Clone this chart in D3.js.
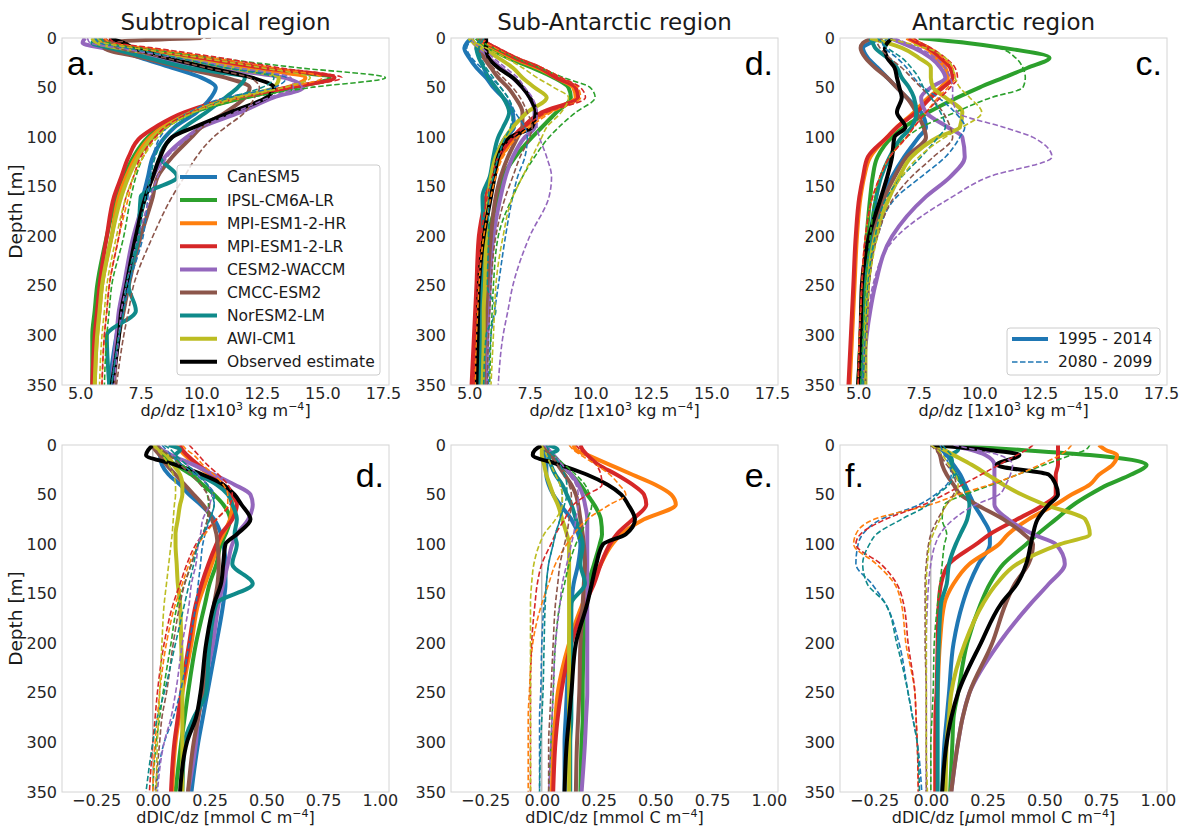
<!DOCTYPE html>
<html lang="en">
<head>
<meta charset="utf-8" />
<script src="https://d3js.org/d3.v7.min.js"></script>
<style>
  body { margin: 0; background: #fff; font-family: 'DejaVu Sans', sans-serif; }
  .tick text { font-size: 16px; fill: #262626; font-family: 'DejaVu Sans', sans-serif; }
</style>
</head>
<body>
<div id="chart"></div>
<script>
// ---- data --------------------------------------------------------------
const depth = [0, 5, 10, 20, 30, 40, 50, 60, 75, 90, 100, 120, 140, 160, 200, 250, 275, 300, 350];
const models = ['CanESM5', 'IPSL-CM6A-LR', 'MPI-ESM1-2-HR', 'MPI-ESM1-2-LR', 'CESM2-WACCM', 'CMCC-ESM2', 'NorESM2-LM', 'AWI-CM1'];
const modelColors = ['#1f77b4', '#2ca02c', '#ff7f0e', '#d62728', '#9467bd', '#8c564b', '#0f8a8a', '#bcbd22'];
const obsLabel = 'Observed estimate';
const periods = ['1995 - 2014', '2080 - 2099'];
const regions = ['Subtropical region', 'Sub-Antarctic region', 'Antarctic region'];
const rhoTicks = [5.0, 7.5, 10.0, 12.5, 15.0, 17.5];
const dicTicks = [-0.25, 0.0, 0.25, 0.5, 0.75, 1.0];
const depthTicks = [0, 50, 100, 150, 200, 250, 300, 350];

// (a) subtropical density gradient
const subRhoHist = [
  [5.6, 5.7, 6.3, 7.5, 8.8, 10.0, 10.6, 10.4, 9.8, 8.9, 8.5, 8.0, 7.8, 7.6, 7.3, 6.9, 6.7, 6.5, 6.2],
  [5.5, 5.8, 6.6, 8.8, 11.8, 15.3, 13.8, 11.8, 9.6, 8.3, 7.8, 7.2, 6.8, 6.5, 6.1, 5.7, 5.6, 5.5, 5.5],
  [5.8, 6.0, 7.0, 9.5, 12.0, 14.3, 13.5, 11.6, 9.5, 8.4, 7.9, 7.3, 6.9, 6.6, 6.3, 5.9, 5.8, 5.7, 5.6],
  [6.0, 6.2, 7.3, 10.0, 12.5, 15.5, 13.6, 11.4, 9.3, 8.1, 7.5, 7.0, 6.7, 6.4, 6.1, 5.8, 5.7, 5.6, 5.5],
  [5.2, 5.1, 5.9, 8.0, 10.5, 13.4, 14.2, 13.0, 11.6, 10.0, 9.4, 8.5, 8.0, 7.7, 7.2, 6.8, 6.6, 6.5, 6.3],
  [10.0, 6.0, 6.0, 7.6, 9.2, 11.0, 12.0, 11.8, 11.0, 10.0, 9.6, 8.8, 8.2, 8.0, 7.5, 7.0, 6.8, 6.6, 6.4],
  [5.8, 5.5, 6.2, 7.8, 9.5, 11.8, 11.5, 11.0, 10.2, 9.3, 8.8, 8.3, 9.0, 7.5, 7.4, 7.0, 7.3, 6.1, 6.2],
  [5.5, 5.7, 6.6, 9.0, 11.2, 13.2, 13.0, 11.4, 9.6, 8.5, 8.0, 7.4, 7.0, 6.7, 6.3, 5.9, 5.8, 5.7, 5.6]
];
const subRhoFut = [
  [5.6, 5.8, 6.8, 9.0, 11.0, 13.5, 13.0, 11.0, 9.5, 8.6, 8.3, 8.0, 7.9, 7.8, 7.6, 7.0, 6.8, 6.6, 6.3],
  [5.8, 6.2, 7.5, 10.5, 14.0, 17.6, 14.5, 12.0, 9.8, 8.6, 8.1, 7.6, 7.3, 7.1, 6.8, 6.3, 6.2, 6.1, 6.0],
  [6.0, 6.3, 7.8, 10.5, 13.0, 15.0, 13.5, 11.5, 9.6, 8.5, 8.1, 7.6, 7.2, 7.0, 6.6, 6.2, 6.1, 6.0, 5.9],
  [6.2, 6.5, 8.0, 10.8, 13.2, 15.8, 13.8, 11.6, 9.6, 8.5, 8.1, 7.5, 7.2, 6.9, 6.6, 6.2, 6.1, 6.0, 5.9],
  [5.3, 5.4, 6.5, 9.0, 11.5, 13.7, 13.8, 12.8, 11.4, 10.0, 9.5, 8.6, 8.2, 7.9, 7.4, 6.9, 6.7, 6.6, 6.4],
  [10.4, 6.3, 6.5, 8.5, 10.2, 12.0, 12.4, 12.2, 11.8, 11.0, 10.5, 9.8, 9.3, 8.8, 8.0, 7.2, 7.0, 6.8, 6.5],
  [5.9, 6.0, 7.0, 9.0, 11.0, 13.0, 12.5, 11.2, 9.8, 8.9, 8.5, 8.1, 7.9, 7.7, 7.4, 6.9, 6.8, 6.6, 6.3],
  [5.7, 6.0, 7.2, 10.0, 12.5, 14.5, 13.4, 11.5, 9.7, 8.6, 8.2, 7.6, 7.2, 6.9, 6.5, 6.1, 6.0, 5.9, 5.8]
];
const subRhoObs = [6.2, 6.8, 7.2, 8.6, 10.3, 12.1, 13.0, 12.7, 11.2, 9.7, 8.8, 8.3, 8.0, 7.7, 7.3, 6.9, 6.7, 6.6, 6.3];

// (b) sub-antarctic density gradient
const saRhoHist = [
  [5.1, 4.9, 4.8, 5.0, 5.3, 5.7, 6.0, 6.4, 6.8, 6.85, 6.5, 6.1, 5.9, 5.8, 5.7, 5.6, 5.55, 5.5, 5.5],
  [5.3, 5.5, 5.8, 6.6, 7.6, 8.5, 9.1, 9.2, 8.6, 8.0, 7.6, 6.9, 6.4, 6.2, 5.8, 5.7, 5.6, 5.6, 5.55],
  [5.4, 5.6, 6.0, 6.8, 7.8, 8.6, 9.3, 9.4, 8.2, 7.3, 6.9, 6.3, 6.0, 5.8, 5.5, 5.35, 5.3, 5.25, 5.2],
  [5.4, 5.7, 6.1, 6.9, 7.9, 8.6, 9.4, 9.5, 8.0, 7.2, 6.8, 6.2, 5.9, 5.7, 5.4, 5.3, 5.25, 5.2, 5.1],
  [5.1, 5.2, 5.4, 5.8, 6.3, 6.8, 7.2, 7.5, 7.7, 7.7, 7.3, 6.8, 6.5, 6.3, 6.0, 5.85, 5.8, 5.75, 5.7],
  [5.5, 5.4, 5.3, 5.6, 5.9, 6.2, 6.6, 6.9, 7.2, 7.2, 7.0, 6.6, 6.3, 6.1, 5.9, 5.75, 5.7, 5.65, 5.6],
  [5.6, 5.4, 5.3, 5.4, 5.6, 5.8, 6.1, 6.4, 6.65, 6.4, 6.2, 6.0, 5.85, 5.55, 5.6, 5.5, 5.5, 5.45, 5.4],
  [5.0, 5.2, 5.5, 6.2, 6.8, 7.2, 7.7, 8.2, 7.4, 6.8, 6.5, 6.1, 5.9, 5.8, 5.7, 5.65, 5.6, 5.6, 5.55]
];
const saRhoFut = [
  [5.2, 5.0, 4.9, 5.1, 5.5, 5.9, 6.3, 6.6, 6.9, 7.3, 7.4, 7.3, 7.0, 6.8, 6.5, 6.2, 6.05, 5.9, 5.8],
  [5.4, 5.6, 6.0, 6.9, 7.9, 8.9, 10.0, 10.2, 9.4, 8.7, 8.3, 7.7, 7.2, 6.8, 6.2, 6.0, 5.95, 5.9, 5.85],
  [5.5, 5.7, 6.1, 7.0, 8.0, 8.8, 9.5, 9.6, 8.4, 7.5, 7.0, 6.4, 6.1, 5.9, 5.6, 5.4, 5.35, 5.3, 5.25],
  [5.5, 5.8, 6.2, 7.0, 8.0, 8.8, 9.6, 9.8, 8.2, 7.3, 6.8, 6.2, 5.95, 5.75, 5.5, 5.35, 5.3, 5.25, 5.2],
  [5.1, 5.2, 5.5, 6.0, 6.5, 7.0, 7.3, 7.6, 7.8, 7.8, 7.9, 8.2, 8.4, 8.3, 7.5, 6.8, 6.6, 6.4, 6.2],
  [5.5, 5.5, 5.4, 5.7, 6.0, 6.4, 6.8, 7.1, 7.4, 7.6, 7.5, 7.1, 6.8, 6.5, 6.1, 5.9, 5.85, 5.8, 5.75],
  [5.6, 5.5, 5.4, 5.5, 5.7, 6.0, 6.3, 6.6, 6.8, 6.7, 6.5, 6.2, 6.0, 5.8, 5.8, 5.75, 6.1, 5.7, 5.6],
  [5.1, 5.3, 5.7, 6.5, 7.2, 7.8, 8.5, 9.1, 8.8, 8.2, 8.0, 7.6, 7.2, 6.8, 6.4, 6.1, 6.05, 6.0, 5.9]
];
const saRhoObs = [5.7, 5.7, 5.7, 5.8, 6.2, 6.8, 7.2, 7.5, 7.75, 7.6, 6.7, 6.2, 6.05, 5.9, 5.6, 5.4, 5.37, 5.35, 5.3];

// (c) antarctic density gradient
const antRhoHist = [
  [6.0, 5.5, 5.2, 5.4, 5.8, 6.2, 6.6, 7.0, 7.6, 7.8, 7.5, 6.9, 6.4, 6.0, 5.6, 5.35, 5.3, 5.25, 5.2],
  [7.5, 9.5, 11.0, 12.9, 12.0, 11.0, 10.0, 9.1, 7.9, 6.9, 6.4, 5.8, 5.6, 5.5, 5.35, 5.2, 5.15, 5.1, 5.0],
  [7.0, 7.4, 7.8, 8.2, 8.6, 8.7, 8.4, 7.9, 7.3, 6.6, 6.2, 5.5, 5.25, 5.1, 4.95, 4.85, 4.8, 4.75, 4.65],
  [7.1, 7.5, 7.9, 8.4, 8.8, 8.9, 8.5, 8.0, 7.4, 6.6, 6.2, 5.4, 5.2, 5.05, 4.9, 4.8, 4.75, 4.7, 4.6],
  [6.3, 6.8, 7.3, 8.0, 8.4, 8.6, 8.0, 7.6, 7.8, 8.7, 9.3, 9.4, 8.8, 7.8, 6.4, 5.7, 5.5, 5.35, 5.2],
  [5.6, 5.2, 5.1, 5.3, 5.7, 6.2, 6.6, 7.0, 7.4, 7.7, 7.8, 7.0, 6.5, 6.1, 5.6, 5.35, 5.3, 5.25, 5.2],
  [5.5, 5.6, 5.7, 6.2, 6.6, 6.8, 7.1, 7.3, 7.4, 7.2, 6.8, 6.3, 5.95, 5.75, 5.5, 5.3, 5.25, 5.2, 5.15],
  [5.5, 6.2, 6.8, 7.5, 8.0, 8.0, 8.1, 8.6, 9.3, 9.2, 8.3, 7.2, 6.7, 6.3, 5.7, 5.4, 5.35, 5.3, 5.3]
];
const antRhoFut = [
  [6.3, 6.0, 6.1, 6.6, 7.0, 7.3, 7.7, 8.3, 9.0, 9.4, 9.2, 8.6, 7.6, 6.6, 5.8, 5.45, 5.4, 5.35, 5.3],
  [7.5, 9.5, 10.8, 11.5, 11.8, 11.9, 11.8, 10.5, 9.0, 7.6, 7.0, 6.3, 5.9, 5.7, 5.5, 5.3, 5.25, 5.2, 5.1],
  [7.2, 7.6, 8.0, 8.5, 8.9, 9.0, 8.7, 8.3, 7.8, 7.3, 7.0, 6.3, 5.9, 5.6, 5.3, 5.15, 5.1, 5.05, 5.0],
  [7.3, 7.6, 8.0, 8.6, 9.0, 9.1, 8.8, 8.4, 7.8, 7.3, 7.0, 6.3, 5.9, 5.6, 5.3, 5.15, 5.1, 5.05, 5.0],
  [6.5, 7.0, 7.5, 8.2, 8.6, 8.8, 8.9, 8.9, 9.1, 11.0, 12.2, 13.0, 10.4, 8.9, 6.6, 5.6, 5.45, 5.3, 5.2],
  [6.0, 5.8, 5.9, 6.3, 6.8, 7.2, 7.6, 8.0, 8.5, 8.8, 8.9, 8.1, 7.2, 6.5, 5.8, 5.45, 5.4, 5.35, 5.3],
  [5.8, 6.0, 6.2, 6.8, 7.2, 7.5, 7.7, 8.0, 8.4, 8.6, 8.3, 7.6, 6.8, 6.2, 5.7, 5.4, 5.35, 5.3, 5.2],
  [6.0, 7.0, 7.8, 8.6, 8.9, 9.0, 9.2, 9.6, 10.1, 9.3, 8.6, 7.5, 6.8, 6.3, 5.8, 5.45, 5.4, 5.35, 5.3]
];
const antRhoObs = [6.4, 6.2, 6.1, 6.2, 6.5, 6.6, 6.7, 6.8, 6.6, 6.95, 6.5, 6.4, 6.2, 5.95, 5.45, 5.15, 5.12, 5.1, 5.0];

// (d) subtropical DIC gradient
const subDicHist = [
  [0.02, 0.02, 0.03, 0.04, 0.07, 0.12, 0.16, 0.21, 0.27, 0.3, 0.31, 0.32, 0.32, 0.31, 0.28, 0.24, 0.22, 0.2, 0.17],
  [0.01, 0.02, 0.04, 0.1, 0.17, 0.22, 0.27, 0.31, 0.34, 0.32, 0.3, 0.28, 0.25, 0.23, 0.19, 0.155, 0.14, 0.125, 0.1],
  [0.1, 0.12, 0.14, 0.19, 0.25, 0.3, 0.34, 0.35, 0.34, 0.31, 0.29, 0.26, 0.23, 0.2, 0.17, 0.13, 0.115, 0.1, 0.085],
  [0.12, 0.13, 0.15, 0.2, 0.26, 0.31, 0.35, 0.37, 0.35, 0.3, 0.28, 0.245, 0.215, 0.19, 0.16, 0.125, 0.11, 0.095, 0.08],
  [0.02, 0.04, 0.08, 0.18, 0.27, 0.36, 0.43, 0.44, 0.42, 0.37, 0.35, 0.33, 0.31, 0.29, 0.265, 0.22, 0.2, 0.19, 0.155],
  [0.0, 0.01, 0.03, 0.06, 0.1, 0.14, 0.18, 0.22, 0.26, 0.28, 0.285, 0.29, 0.285, 0.27, 0.25, 0.22, 0.2, 0.18, 0.155],
  [0.07, 0.12, 0.1, 0.12, 0.2, 0.28, 0.33, 0.35, 0.37, 0.36, 0.37, 0.35, 0.44, 0.28, 0.25, 0.235, 0.18, 0.14, 0.13],
  [0.0, 0.03, 0.06, 0.09, 0.12, 0.13, 0.13, 0.12, 0.11, 0.1, 0.1, 0.105, 0.11, 0.12, 0.125, 0.13, 0.13, 0.13, 0.13]
];
const subDicFut = [
  [0.04, 0.06, 0.08, 0.13, 0.19, 0.24, 0.27, 0.27, 0.25, 0.23, 0.22, 0.21, 0.2, 0.19, 0.16, 0.12, 0.09, 0.05, 0.015],
  [0.02, 0.04, 0.07, 0.13, 0.18, 0.22, 0.24, 0.245, 0.24, 0.22, 0.2, 0.17, 0.14, 0.11, 0.08, 0.045, 0.03, 0.015, 0.0],
  [0.13, 0.15, 0.18, 0.22, 0.27, 0.31, 0.33, 0.33, 0.28, 0.23, 0.2, 0.16, 0.13, 0.1, 0.06, 0.03, 0.02, 0.01, 0.0],
  [0.16, 0.18, 0.2, 0.24, 0.29, 0.33, 0.35, 0.34, 0.28, 0.22, 0.19, 0.15, 0.12, 0.09, 0.05, 0.02, 0.01, 0.0, -0.015],
  [0.02, 0.05, 0.09, 0.15, 0.2, 0.24, 0.26, 0.25, 0.22, 0.21, 0.2, 0.19, 0.17, 0.16, 0.13, 0.1, 0.08, 0.05, 0.02],
  [0.02, 0.04, 0.07, 0.12, 0.17, 0.21, 0.24, 0.25, 0.24, 0.22, 0.2, 0.17, 0.14, 0.12, 0.09, 0.06, 0.04, 0.03, 0.01],
  [0.05, 0.08, 0.1, 0.15, 0.2, 0.24, 0.26, 0.27, 0.25, 0.22, 0.2, 0.18, 0.16, 0.14, 0.1, 0.05, 0.02, 0.0, -0.03],
  [0.0, 0.02, 0.04, 0.07, 0.09, 0.1, 0.1, 0.095, 0.09, 0.085, 0.08, 0.07, 0.06, 0.05, 0.04, 0.03, 0.025, 0.02, 0.015]
];
const subDicObs = [0.0, -0.02, -0.03, 0.1, 0.22, 0.31, 0.36, 0.39, 0.43, 0.37, 0.32, 0.31, 0.3, 0.27, 0.235, 0.21, 0.19, 0.15, 0.12];

// (e) sub-antarctic DIC gradient
const saDicHist = [
  [0.01, 0.01, 0.01, 0.02, 0.02, 0.03, 0.05, 0.08, 0.13, 0.16, 0.17, 0.16, 0.14, 0.13, 0.12, 0.11, 0.105, 0.1, 0.1],
  [0.0, 0.02, 0.04, 0.08, 0.13, 0.17, 0.2, 0.23, 0.26, 0.265, 0.255, 0.23, 0.205, 0.195, 0.185, 0.18, 0.18, 0.175, 0.17],
  [0.14, 0.15, 0.2, 0.3, 0.4, 0.5, 0.57, 0.59, 0.45, 0.35, 0.31, 0.26, 0.22, 0.18, 0.12, 0.07, 0.06, 0.05, 0.045],
  [0.17, 0.18, 0.2, 0.25, 0.33, 0.4, 0.45, 0.46, 0.4, 0.33, 0.3, 0.26, 0.23, 0.19, 0.13, 0.085, 0.07, 0.06, 0.05],
  [0.02, 0.03, 0.05, 0.09, 0.13, 0.16, 0.18, 0.19, 0.2, 0.2, 0.2, 0.2, 0.2, 0.2, 0.2, 0.2, 0.195, 0.19, 0.175],
  [0.0, 0.02, 0.04, 0.07, 0.1, 0.13, 0.15, 0.16, 0.17, 0.18, 0.185, 0.19, 0.185, 0.18, 0.17, 0.165, 0.16, 0.155, 0.15],
  [0.03, 0.07, 0.03, 0.04, 0.06, 0.09, 0.11, 0.13, 0.15, 0.17, 0.18, 0.17, 0.19, 0.13, 0.13, 0.13, 0.13, 0.125, 0.125],
  [0.0, 0.0, 0.0, 0.01, 0.02, 0.035, 0.05, 0.07, 0.09, 0.11, 0.12, 0.12, 0.12, 0.12, 0.12, 0.12, 0.12, 0.12, 0.12]
];
const saDicFut = [
  [0.01, 0.01, 0.02, 0.04, 0.06, 0.08, 0.09, 0.09, 0.08, 0.06, 0.05, 0.03, 0.02, 0.01, 0.0, -0.005, -0.01, -0.01, -0.01],
  [0.0, 0.02, 0.05, 0.1, 0.15, 0.19, 0.21, 0.22, 0.2, 0.17, 0.15, 0.12, 0.1, 0.08, 0.06, 0.05, 0.045, 0.04, 0.03],
  [0.12, 0.14, 0.17, 0.24, 0.3, 0.34, 0.37, 0.3, 0.2, 0.14, 0.11, 0.06, 0.03, 0.0, -0.04, -0.055, -0.06, -0.06, -0.06],
  [0.15, 0.17, 0.2, 0.24, 0.26, 0.265, 0.2, 0.14, 0.1, 0.06, 0.04, 0.0, -0.02, -0.03, -0.045, -0.05, -0.05, -0.05, -0.05],
  [0.01, 0.03, 0.05, 0.09, 0.12, 0.15, 0.16, 0.16, 0.15, 0.14, 0.13, 0.11, 0.09, 0.08, 0.06, 0.05, 0.045, 0.04, 0.03],
  [0.0, 0.02, 0.04, 0.07, 0.1, 0.12, 0.13, 0.13, 0.12, 0.11, 0.1, 0.08, 0.07, 0.06, 0.05, 0.04, 0.035, 0.03, 0.03],
  [0.02, 0.03, 0.05, 0.08, 0.1, 0.11, 0.11, 0.1, 0.08, 0.06, 0.05, 0.03, 0.02, 0.015, 0.01, 0.005, 0.0, -0.005, -0.01],
  [0.0, 0.01, 0.02, 0.04, 0.06, 0.08, 0.09, 0.09, 0.06, 0.01, -0.01, -0.035, -0.045, -0.05, -0.05, -0.05, -0.05, -0.05, -0.05]
];
const saDicObs = [0.0, -0.03, -0.04, 0.08, 0.2, 0.29, 0.35, 0.38, 0.41, 0.37, 0.27, 0.24, 0.22, 0.2, 0.15, 0.13, 0.12, 0.11, 0.1];

// (f) antarctic DIC gradient
const antDicHist = [
  [0.03, 0.05, 0.07, 0.1, 0.13, 0.15, 0.17, 0.19, 0.23, 0.26, 0.26, 0.21, 0.17, 0.14, 0.1, 0.08, 0.07, 0.06, 0.05],
  [0.05, 0.4, 0.7, 0.95, 0.88, 0.78, 0.7, 0.63, 0.55, 0.47, 0.42, 0.32, 0.26, 0.22, 0.16, 0.12, 0.1, 0.095, 0.085],
  [0.74, 0.77, 0.82, 0.8, 0.74, 0.7, 0.62, 0.55, 0.43, 0.34, 0.3, 0.17, 0.1, 0.06, 0.04, 0.03, 0.025, 0.02, 0.02],
  [0.56, 0.56, 0.56, 0.56, 0.55, 0.55, 0.55, 0.5, 0.38, 0.26, 0.2, 0.08, 0.045, 0.035, 0.03, 0.025, 0.02, 0.02, 0.02],
  [0.08, 0.18, 0.24, 0.28, 0.28, 0.28, 0.28, 0.28, 0.34, 0.45, 0.55, 0.59, 0.52, 0.44, 0.3, 0.17, 0.14, 0.12, 0.09],
  [0.02, 0.03, 0.04, 0.05, 0.07, 0.1, 0.13, 0.2, 0.32, 0.41, 0.45, 0.43, 0.37, 0.33, 0.27, 0.17, 0.14, 0.12, 0.09],
  [0.12, 0.12, 0.09, 0.09, 0.11, 0.14, 0.16, 0.17, 0.16, 0.13, 0.11, 0.08, 0.07, 0.045, 0.035, 0.03, 0.03, 0.03, 0.03],
  [0.02, 0.06, 0.1, 0.18, 0.25, 0.32, 0.4, 0.5, 0.68, 0.7, 0.57, 0.38, 0.29, 0.23, 0.15, 0.09, 0.08, 0.07, 0.065]
];
const antDicFut = [
  [0.04, 0.05, 0.06, 0.08, 0.09, 0.07, 0.02, -0.05, -0.22, -0.3, -0.32, -0.33, -0.26, -0.2, -0.14, -0.1, -0.08, -0.06, -0.04],
  [0.7, 0.68, 0.62, 0.5, 0.38, 0.27, 0.15, 0.06, 0.05, 0.07, 0.06, 0.05, 0.04, 0.03, 0.015, 0.01, 0.005, 0.0, 0.0],
  [0.62, 0.6, 0.57, 0.48, 0.38, 0.26, 0.12, 0.0, -0.25, -0.33, -0.34, -0.24, -0.16, -0.13, -0.11, -0.07, -0.065, -0.06, -0.055],
  [0.45, 0.42, 0.38, 0.3, 0.22, 0.14, 0.06, -0.03, -0.2, -0.31, -0.33, -0.22, -0.15, -0.12, -0.1, -0.07, -0.065, -0.06, -0.055],
  [0.1, 0.2, 0.3, 0.36, 0.35, 0.33, 0.3, 0.2, 0.1, 0.04, 0.02, 0.0, -0.01, -0.015, -0.02, -0.02, -0.02, -0.02, -0.02],
  [0.0, 0.02, 0.04, 0.07, 0.1, 0.11, 0.1, 0.07, 0.03, 0.0, -0.01, -0.02, -0.025, -0.025, -0.025, -0.02, -0.02, -0.02, -0.02],
  [0.05, 0.07, 0.09, 0.1, 0.1, 0.08, 0.03, -0.01, -0.13, -0.24, -0.27, -0.3, -0.28, -0.2, -0.15, -0.1, -0.08, -0.06, -0.05],
  [0.0, 0.03, 0.05, 0.08, 0.11, 0.12, 0.11, 0.07, 0.04, 0.01, -0.005, -0.015, -0.02, -0.02, -0.02, -0.02, -0.02, -0.02, -0.015]
];
const antDicObs = [0.0, 0.25, 0.39, 0.29, 0.52, 0.55, 0.56, 0.52, 0.47, 0.45, 0.44, 0.42, 0.38, 0.31, 0.22, 0.12, 0.09, 0.07, 0.05];

// ---- layout ------------------------------------------------------------
const W = 1194, H = 827;
const colLeft = [62, 451, 840];
const rowTop = [38, 445];
const panelW = 327, panelH = 347;

const panels = [
  { row: 0, col: 0, hist: subRhoHist, fut: subRhoFut, obs: subRhoObs, kind: 'rho', letter: 'a.', side: 'left' },
  { row: 0, col: 1, hist: saRhoHist, fut: saRhoFut, obs: saRhoObs, kind: 'rho', letter: 'd.', side: 'right' },
  { row: 0, col: 2, hist: antRhoHist, fut: antRhoFut, obs: antRhoObs, kind: 'rho', letter: 'c.', side: 'right' },
  { row: 1, col: 0, hist: subDicHist, fut: subDicFut, obs: subDicObs, kind: 'dic', letter: 'd.', side: 'right' },
  { row: 1, col: 1, hist: saDicHist, fut: saDicFut, obs: saDicObs, kind: 'dic', letter: 'e.', side: 'right' },
  { row: 1, col: 2, hist: antDicHist, fut: antDicFut, obs: antDicObs, kind: 'dicu', letter: 'f.', side: 'left' }
];

const svg = d3.select('#chart').append('svg')
  .attr('width', W).attr('height', H)
  .style('font-family', "'DejaVu Sans', sans-serif");

// titles
regions.forEach((r, i) => {
  svg.append('text')
    .attr('x', colLeft[i] + panelW / 2).attr('y', 30)
    .attr('text-anchor', 'middle')
    .attr('font-size', 23).attr('fill', '#1a1a1a')
    .text(r);
});

// y labels
rowTop.forEach(t => {
  svg.append('text')
    .attr('transform', `translate(22,${t + panelH / 2}) rotate(-90)`)
    .attr('text-anchor', 'middle')
    .attr('font-size', 18.5).attr('fill', '#1a1a1a')
    .text('Depth [m]');
});

function xLabel(g, kind) {
  const t = g.append('text')
    .attr('x', panelW / 2).attr('y', panelH + 31)
    .attr('text-anchor', 'middle')
    .attr('font-size', 16).attr('fill', '#1a1a1a');
  if (kind === 'rho') {
    t.append('tspan').text('d');
    t.append('tspan').attr('font-style', 'italic').text('ρ');
    t.append('tspan').text('/dz [1x10');
    t.append('tspan').attr('font-size', 11).attr('dy', -6).text('3');
    t.append('tspan').attr('dy', 6).text(' kg m');
    t.append('tspan').attr('font-size', 11).attr('dy', -6).text('−4');
    t.append('tspan').attr('dy', 6).text(']');
  } else {
    t.append('tspan').text(kind === 'dicu' ? 'dDIC/dz [' : 'dDIC/dz [mmol C m');
    if (kind === 'dicu') {
      t.append('tspan').attr('font-style', 'italic').text('μ');
      t.append('tspan').text('mol mmol C m');
    }
    t.append('tspan').attr('font-size', 11).attr('dy', -6).text('−4');
    t.append('tspan').attr('dy', 6).text(']');
  }
}

panels.forEach((p, pi) => {
  const left = colLeft[p.col], top = rowTop[p.row];
  const g = svg.append('g').attr('transform', `translate(${left},${top})`);

  const x = d3.scaleLinear()
    .domain(p.kind === 'rho' ? [4.25, 17.75] : [-0.40, 1.04])
    .range([0, panelW]);
  const y = d3.scaleLinear().domain([0, 350]).range([0, panelH]);

  g.append('rect').attr('width', panelW).attr('height', panelH).attr('fill', '#fff');

  // axes
  g.append('g')
    .call(d3.axisLeft(y).tickValues(depthTicks).tickSize(0).tickPadding(5).tickFormat(d3.format('d')))
    .call(a => a.select('.domain').remove());
  g.append('g')
    .attr('transform', `translate(0,${panelH})`)
    .call(d3.axisBottom(x).tickValues(p.kind === 'rho' ? rhoTicks : dicTicks)
      .tickSize(0).tickPadding(3)
      .tickFormat(d3.format(p.kind === 'rho' ? '.1f' : '.2f')))
    .call(a => a.select('.domain').remove());
  xLabel(g, p.kind);

  const clipId = 'clip' + pi;
  g.append('clipPath').attr('id', clipId)
    .append('rect').attr('width', panelW).attr('height', panelH);
  const plot = g.append('g').attr('clip-path', `url(#${clipId})`);

  if (p.kind !== 'rho') {
    plot.append('line')
      .attr('x1', x(0)).attr('x2', x(0)).attr('y1', 0).attr('y2', panelH)
      .attr('stroke', '#9a9a9a').attr('stroke-width', 1);
  }

  const line = d3.line()
    .x(d => x(d[0])).y(d => y(d[1]))
    .curve(d3.curveMonotoneY);
  const pts = vals => vals.map((v, i) => [v, depth[i]]);

  p.hist.forEach((vals, i) => {
    plot.append('path').attr('d', line(pts(vals)))
      .attr('fill', 'none').attr('stroke', modelColors[i])
      .attr('stroke-width', 4).attr('stroke-linejoin', 'round').attr('stroke-linecap', 'butt');
  });
  plot.append('path').attr('d', line(pts(p.obs)))
    .attr('fill', 'none').attr('stroke', '#000')
    .attr('stroke-width', 4).attr('stroke-linejoin', 'round');
  p.fut.forEach((vals, i) => {
    plot.append('path').attr('d', line(pts(vals)))
      .attr('fill', 'none').attr('stroke', modelColors[i])
      .attr('stroke-width', 1.6).attr('stroke-dasharray', '5.5,2.5');
  });

  // spines
  g.append('rect').attr('width', panelW).attr('height', panelH)
    .attr('fill', 'none').attr('stroke', '#d4d4d4').attr('stroke-width', 1);

  // panel letter
  const lt = g.append('text')
    .attr('y', p.row === 0 ? 37 : 42)
    .attr('font-family', "'Liberation Sans', Arial, sans-serif")
    .attr('font-size', 34).attr('fill', '#000')
    .text(p.letter);
  if (p.side === 'left') lt.attr('x', 5);
  else lt.attr('x', panelW - 5).attr('text-anchor', 'end');
});

// model legend (panel a)
const legA = svg.append('g');
legA.append('rect')
  .attr('x', 177).attr('y', 165).attr('width', 203).attr('height', 210)
  .attr('rx', 3).attr('fill', '#fff').attr('fill-opacity', 0.8)
  .attr('stroke', '#cccccc').attr('stroke-width', 1);
models.concat([obsLabel]).forEach((m, i) => {
  const yy = 177 + i * 23.1;
  legA.append('line')
    .attr('x1', 180).attr('x2', 217).attr('y1', yy).attr('y2', yy)
    .attr('stroke', i < models.length ? modelColors[i] : '#000').attr('stroke-width', 4);
  legA.append('text')
    .attr('x', 227).attr('y', yy).attr('dy', '0.35em')
    .attr('font-size', 15.5).attr('fill', '#1a1a1a')
    .text(m);
});

// period legend (panel c)
const legC = svg.append('g');
legC.append('rect')
  .attr('x', 1007).attr('y', 328).attr('width', 153).attr('height', 47)
  .attr('rx', 3).attr('fill', '#fff').attr('fill-opacity', 0.8)
  .attr('stroke', '#cccccc').attr('stroke-width', 1);
periods.forEach((per, i) => {
  const yy = 339 + i * 23;
  legC.append('line')
    .attr('x1', 1012).attr('x2', 1048).attr('y1', yy).attr('y2', yy)
    .attr('stroke', modelColors[0])
    .attr('stroke-width', i === 0 ? 4 : 1.6)
    .attr('stroke-dasharray', i === 0 ? null : '5.5,2.5');
  legC.append('text')
    .attr('x', 1058).attr('y', yy).attr('dy', '0.35em')
    .attr('font-size', 15.5).attr('fill', '#1a1a1a')
    .text(per);
});
</script>
</body>
</html>
